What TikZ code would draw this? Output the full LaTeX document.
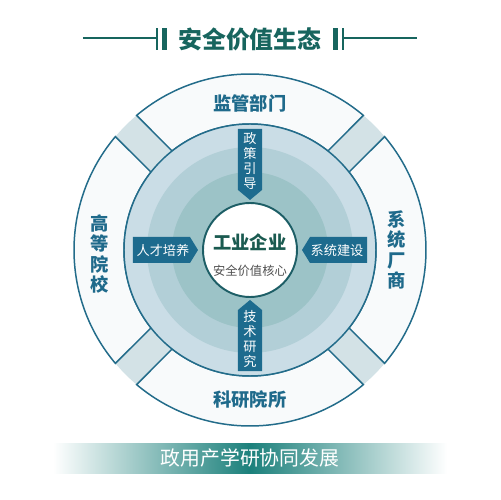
\documentclass[tikz,border=0pt]{standalone}
\usepackage{fontspec}
\setmainfont{Noto Sans CJK SC}
\usetikzlibrary{positioning,calc}
\definecolor{titleGreen}{HTML}{17655E}
\definecolor{segLine}{HTML}{236C8A}
\definecolor{segLabel}{HTML}{1F6A8B}
\definecolor{gapFill}{HTML}{D3E2E6}
\definecolor{segFill}{HTML}{F8FAFB}
\definecolor{ringA}{HTML}{CADDE6}
\definecolor{ringB}{HTML}{B2CFD7}
\definecolor{ringC}{HTML}{9CC3C7}
\definecolor{coreLine}{HTML}{1D5E66}
\definecolor{tagBlue}{HTML}{1D6B8E}
\definecolor{coreText}{HTML}{1A5A50}
\definecolor{subText}{HTML}{505050}
\definecolor{bannerTeal}{HTML}{1B807B}

\begin{document}
\begin{tikzpicture}[x=0.02cm,y=0.02cm,
  segment/.style={fill=segFill,draw=segLine,line width=0.85pt},
  seglabel/.style={text=segLabel,font=\fontsize{10.4}{11.6}\selectfont\bfseries,align=center,inner sep=0pt},
  tagtext/.style={text=white,font=\fontsize{7.5}{8.5}\selectfont,align=center,inner sep=0pt},
  tagshape/.style={fill=tagBlue}]
  \useasboundingbox (-250,-250) rectangle (250,250);
  % title with bars
  \node[text=titleGreen,font=\fontsize{13.6}{16}\selectfont\bfseries] (title) at (0,211) {安全价值生态};
  \draw[titleGreen,line width=0.8pt] (-167,212) -- (-94,212);
  \draw[titleGreen,line width=0.8pt] (94,212) -- (167,212);
  \fill[titleGreen] (-94,200) rectangle (-92,222);
  \fill[titleGreen] (-88,200) rectangle (-83,222);
  \fill[titleGreen] (83,200) rectangle (88,222);
  \fill[titleGreen] (92,200) rectangle (94,222);
  % outer ring
  \fill[gapFill,even odd rule] (0,0) circle (176) (0,0) circle (126);
  \foreach \c in {0,90,180,270}{
    \filldraw[segment] (\c-40.1:176) arc[start angle=\c-40.1,end angle=\c+40.1,radius=176]
      -- (\c+38.2:126) arc[start angle=\c+38.2,end angle=\c-38.2,radius=126] -- cycle;
  }
  \node[seglabel] (jianguan) at (0,147) {监管部门};
  \node[seglabel] (keyan) at (0,-150) {科研院所};
  \node[seglabel] (gaodeng) at (-150,-4) {高\\等\\院\\校};
  \node[seglabel] (xitong) at (147,0) {系\\统\\厂\\商};
  % inner disc
  \filldraw[fill=ringA,draw=segLine,line width=0.85pt] (0,0) circle (126);
  \fill[ringB] (0,0) circle (103);
  \fill[ringC] (0,0) circle (78);
  \filldraw[fill=white,draw=coreLine,line width=1.1pt] (0,0) circle (47);
  % tags
  \fill[tagshape] (-12,121) -- (12,121) -- (12,60) -- (0,50) -- (-12,60) -- cycle;
  \fill[tagshape] (-12,-121) -- (12,-121) -- (12,-60) -- (0,-50) -- (-12,-60) -- cycle;
  \fill[tagshape] (-117,13) -- (-117,-13) -- (-60,-13) -- (-52,0) -- (-60,13) -- cycle;
  \fill[tagshape] (117,13) -- (117,-13) -- (60,-13) -- (52,0) -- (60,13) -- cycle;
  \node[tagtext] (zhengce) at (0,89) {政\\策\\引\\导};
  \node[tagtext] (jishu) at (0,-89) {技\\术\\研\\究};
  \node[tagtext] (rencai) at (-87,0) {人才培养};
  \node[tagtext] (xitongjs) at (87,0) {系统建设};
  % core
  \node[text=coreText,font=\fontsize{10.4}{12}\selectfont\bfseries] (core) at (0,8) {工业企业};
  \node[text=subText,font=\fontsize{7}{8}\selectfont,below=1pt of core] (coresub) {安全价值核心};
  % banner
  \shade[left color=white,right color=white,middle color=bannerTeal] (-197,-223) rectangle (197,-193);
  \node[text=white,font=\fontsize{11.3}{13}\selectfont] (banner) at (0,-208) {政用产学研协同发展};
\end{tikzpicture}
\end{document}
